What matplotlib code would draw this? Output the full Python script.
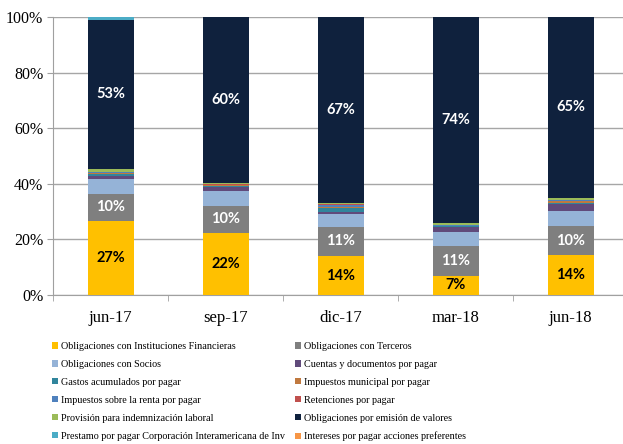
import numpy as np
import matplotlib
matplotlib.use("Agg")
import matplotlib.pyplot as plt
from matplotlib.patches import Patch

# Datos (porcentaje del pasivo total)
periodos = ['jun-17', 'sep-17', 'dic-17', 'mar-18', 'jun-18']

series = [
    'Obligaciones con Instituciones Financieras',
    'Obligaciones con Terceros',
    'Obligaciones con Socios',
    'Cuentas y documentos por pagar',
    'Gastos acumulados por pagar',
    'Impuestos municipal por pagar',
    'Impuestos sobre la renta por pagar',
    'Retenciones por pagar',
    'Provisión para indemnización laboral',
    'Obligaciones por emisión de valores',
    'Prestamo por pagar Corporación Interamericana de Inv',
    'Intereses por pagar acciones preferentes',
]

instituciones = [26.6, 22.3, 14.0, 6.9, 14.3]
terceros      = [9.8, 9.8, 10.6, 10.6, 10.4]
socios        = [5.3, 5.4, 4.5, 5.3, 5.4]
cuentas       = [1.2, 1.2, 0.8, 1.6, 2.6]
gastos        = [0.8, 0.6, 1.5, 0.3, 0.3]
imp_municipal = [0.1, 0.1, 0.1, 0.2, 0.9]
imp_renta     = [0.4, 0.3, 1.0, 0.3, 0.2]
retenciones   = [0.1, 0.1, 0.1, 0.1, 0.2]
provision     = [1.2, 0.4, 0.6, 0.6, 0.7]
emision       = [53.3, 59.8, 66.8, 74.1, 65.0]
prestamo_cii  = [1.2, 0.0, 0.0, 0.0, 0.0]
intereses     = [0.0, 0.0, 0.0, 0.0, 0.0]

valores = [instituciones, terceros, socios, cuentas, gastos, imp_municipal,
           imp_renta, retenciones, provision, emision, prestamo_cii, intereses]

colores = ['#FFC000', '#7F7F7F', '#95B3D7', '#604A7B', '#31859C', '#C0793F',
           '#4F81BD', '#C0504D', '#9BBB59', '#0F213D', '#4BACC6', '#F79646']

# series con etiqueta y color del texto
etiquetas = {0: 'black', 1: 'white', 9: 'white'}

fig = plt.figure(figsize=(6.23, 4.44), dpi=100)
ax = fig.add_axes([53 / 623, 149 / 444, 575 / 623, 278 / 444])

x = np.arange(len(periodos))
base = np.zeros(len(periodos))
handles = []
for i, (nombre, vals, col) in enumerate(zip(series, valores, colores)):
    vals = np.array(vals)
    ax.bar(x, vals, width=0.4, bottom=base, color=col, zorder=3)
    if i in etiquetas:
        for xi, b, v in zip(x, base, vals):
            ax.text(xi, b + v / 2, f"{v:.0f}%", ha='center', va='center',
                    color=etiquetas[i], fontsize=10.5, fontweight='bold',
                    family='Lato', zorder=4)
    base += vals
    handles.append(Patch(facecolor=col, label=nombre))

ax.set_xlim(-0.5, len(periodos) - 0.5)
ax.set_ylim(0, 100)
ax.set_yticks(range(0, 101, 20))
ax.set_yticklabels([f"{v}%" for v in range(0, 101, 20)],
                   family='Liberation Serif', fontsize=11.5)
ax.set_xticks(x)
ax.set_xticklabels(periodos, family='Liberation Serif', fontsize=12)
ax.set_xticks(np.arange(-0.5, len(periodos), 1), minor=True)
ax.tick_params(axis='x', which='major', length=0, pad=11)
ax.tick_params(axis='x', which='minor', length=4, color='#A0A0A0')
ax.tick_params(axis='y', length=4, color='#A0A0A0', pad=3)

ax.grid(axis='y', color='#A6A6A6', linewidth=1, zorder=0)
for s in ['top', 'right']:
    ax.spines[s].set_visible(False)
for s in ['left', 'bottom']:
    ax.spines[s].set_color('#A0A0A0')

# Leyenda en dos columnas (orden por filas)
props = dict(family='Liberation Serif', size=7.3)
kw = dict(frameon=False, handlelength=0.6, handleheight=0.6, handletextpad=0.25,
          labelspacing=0.88, prop=props, borderaxespad=0, borderpad=0)
fig.legend(handles=handles[0::2], loc='upper left',
           bbox_to_anchor=(52 / 623, 1 - 342 / 444), **kw)
fig.legend(handles=handles[1::2], loc='upper left',
           bbox_to_anchor=(295 / 623, 1 - 342 / 444), **kw)

fig.savefig('out.png', dpi=100)
